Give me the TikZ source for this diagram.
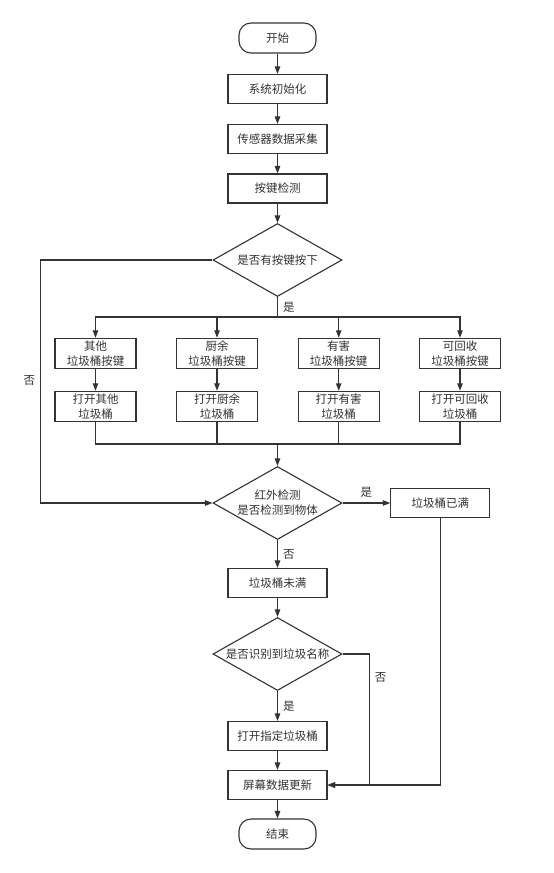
\documentclass[tikz,border=0pt]{standalone}
\usepackage{fontspec}
\setmainfont{Noto Sans CJK SC}
\usetikzlibrary{positioning,arrows.meta,shapes.geometric}
\definecolor{figline}{HTML}{333333}
\definecolor{figfill}{HTML}{FFFFFF}
\definecolor{figtext}{HTML}{333333}

\begin{document}
\begin{tikzpicture}[
  x=1pt, y=-1pt,
  pbox/.style={draw=figline, line width=1.1pt, align=center, text=figtext,
               font=\fontsize{11.5pt}{15pt}\selectfont, fill=figfill,
               minimum width=99pt, minimum height=29pt, inner sep=0pt},
  kbox/.style={pbox, minimum width=81pt, minimum height=30pt},
  pterm/.style={pbox, rounded corners=12pt, minimum width=77pt, minimum height=30pt},
  pdec/.style={pbox, diamond, aspect=1.77, minimum width=129pt, minimum height=73pt},
  flow/.style={-{Triangle[length=7.5pt,width=5.5pt]}, draw=figline, line width=1.1pt},
  plainline/.style={draw=figline, line width=1.1pt},
  clab/.style={font=\fontsize{11.5pt}{15pt}\selectfont, text=figtext, inner sep=5pt}
]
\useasboundingbox (0,0) rectangle (554,873);
% main column
\node[pterm] (start)   at (277.5,38)  {开始};
\node[pbox]  (init)    at (277.5,89)  {系统初始化};
\node[pbox]  (sense)   at (277.5,139) {传感器数据采集};
\node[pbox]  (keyscan) at (277.5,188.5) {按键检测};
\node[pdec]  (haskey)  at (277.5,260) {是否有按键按下};
% four bins
\node[kbox] (kother) at (95.5,353.3)  {其他\\垃圾桶按键};
\node[kbox] (kfood)  at (217,353.3)   {厨余\\垃圾桶按键};
\node[kbox] (kharm)  at (338.7,353.3) {有害\\垃圾桶按键};
\node[kbox] (krecy)  at (460,353.3)   {可回收\\垃圾桶按键};
\node[kbox] (oother) at (95.5,406.3)  {打开其他\\垃圾桶};
\node[kbox] (ofood)  at (217,406.3)   {打开厨余\\垃圾桶};
\node[kbox] (oharm)  at (338.7,406.3) {打开有害\\垃圾桶};
\node[kbox] (orecy)  at (460,406.3)   {打开可回收\\垃圾桶};
% lower part
\node[pdec]  (ir)      at (277.5,503) {红外检测\\是否检测到物体};
\node[pbox]  (full)    at (440.3,503) {垃圾桶已满};
\node[pbox]  (notfull) at (277.5,583) {垃圾桶未满};
\node[pdec]  (recog)   at (277.5,654) {是否识别到垃圾名称};
\node[pbox]  (openbin) at (277.5,736) {打开指定垃圾桶};
\node[pbox]  (screen)  at (277.5,785) {屏幕数据更新};
\node[pterm] (stop)    at (277.5,834) {结束};
% bend points
\coordinate (split)   at (277.5,317);
\coordinate (merge)   at (277.5,444);
\coordinate (nobend)  at (40.7,380);
\coordinate (recogno) at (369.3,677);

\draw[flow] (start) -- (init);
\draw[flow] (init) -- (sense);
\draw[flow] (sense) -- (keyscan);
\draw[flow] (keyscan) -- (haskey);
\draw[plainline] (haskey) -- node[clab, right] {是} (split);
\foreach \k/\o in {kother/oother, kfood/ofood, kharm/oharm, krecy/orecy} {
  \draw[flow] (split) -| (\k);
  \draw[flow] (\k) -- (\o);
  \draw[plainline] (\o) |- (merge);
}
\draw[flow] (merge) -- (ir);
\draw[flow] (haskey.west) -| (nobend) node[clab, left] {否} |- (ir.west);
\draw[flow] (ir) -- node[clab, above] {是} (full);
\draw[flow] (ir) -- node[clab, right] {否} (notfull);
\draw[flow] (notfull) -- (recog);
\draw[flow] (recog) -- node[clab, right] {是} (openbin);
\draw[flow] (recog.east) -| (recogno) node[clab, right] {否} |- (screen.east);
\draw[flow] (full) |- (screen);
\draw[flow] (openbin) -- (screen);
\draw[flow] (screen) -- (stop);
\end{tikzpicture}
\end{document}
